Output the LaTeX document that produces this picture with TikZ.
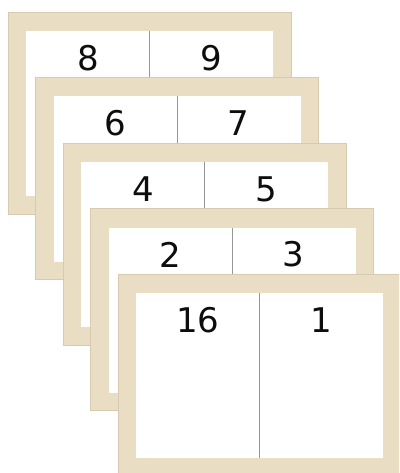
\documentclass[tikz,border=0pt]{standalone}
\usepackage{fontspec}
\setmainfont{DejaVu Sans}
\usepackage{tikz}
\usepackage{xcolor}
\definecolor{frametan}{RGB}{233,221,196}
\definecolor{framerim}{RGB}{215,202,176}
\definecolor{foldgray}{RGB}{150,150,150}
\tikzset{
  sheetframe/.style={fill=frametan, draw=framerim, line width=0.6pt},
  sheetpage/.style={fill=white},
  foldline/.style={draw=foldgray, line width=0.8pt},
  pagenum/.style={font=\fontsize{34}{34}\selectfont, text=black!95, inner sep=0pt}
}
\begin{document}
\begin{tikzpicture}[x=1pt, y=-1pt]
\useasboundingbox (0,0) rectangle (399,473);
\clip (0,0) rectangle (399,473);
% sheets from back to front
\foreach \i/\lpage/\rpage in {0/8/9, 1/6/7, 2/4/5, 3/2/3, 4/16/1} {
  \begin{scope}[shift={(27.5*\i,65.5*\i)}]
    \draw[sheetframe] (8,12) rectangle (291,214);
    \fill[sheetpage] (26,31) rectangle (273,196);
    \draw[foldline] (149.5,31) -- (149.5,196);
    \node[pagenum] (left\i) at (88,58) {\lpage};
    \node[pagenum] (right\i) at (211,58) {\rpage};
  \end{scope}
}
\end{tikzpicture}
\end{document}
